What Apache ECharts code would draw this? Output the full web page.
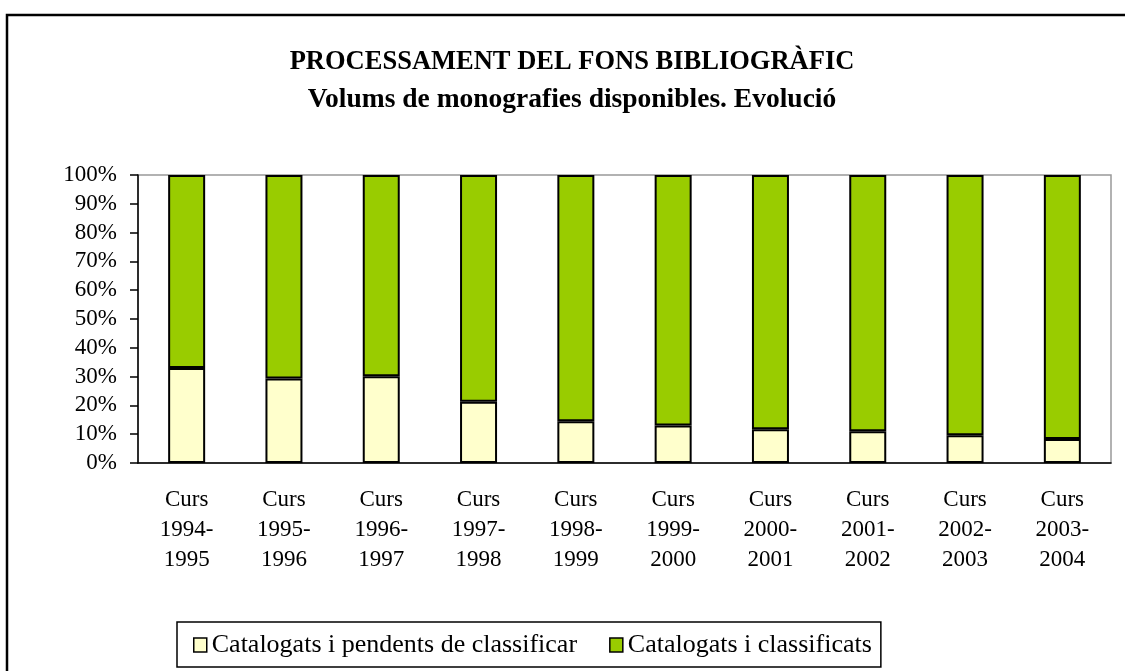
<!DOCTYPE html>
<html>
<head>
<meta charset="utf-8">
<script src="https://cdn.jsdelivr.net/npm/echarts@6/dist/echarts.min.js"></script>
<style>
html,body{margin:0;padding:0;background:#fff;}
#chart{width:1125px;height:671px;}
</style>
</head>
<body>
<div id="chart"></div>
<script>
const titleLines = ["PROCESSAMENT DEL FONS BIBLIOGRÀFIC", "Volums de monografies disponibles. Evolució"];
const categories = ["Curs\n1994-\n1995","Curs\n1995-\n1996","Curs\n1996-\n1997","Curs\n1997-\n1998","Curs\n1998-\n1999","Curs\n1999-\n2000","Curs\n2000-\n2001","Curs\n2001-\n2002","Curs\n2002-\n2003","Curs\n2003-\n2004"];
const seriesNames = ["Catalogats i pendents de classificar", "Catalogats i classificats"];
const pendents = [33.0, 29.3, 30.1, 21.3, 14.5, 13.0, 11.7, 11.0, 9.6, 8.3];
const classificats = [67.0, 70.7, 69.9, 78.7, 85.5, 87.0, 88.3, 89.0, 90.4, 91.7];
const yTicks = [0, 10, 20, 30, 40, 50, 60, 70, 80, 90, 100];

const FONT = "'Liberation Serif', 'Times New Roman', serif";
const chart = echarts.init(document.getElementById('chart'), null, {renderer: 'canvas'});
chart.setOption({
  backgroundColor: '#fff',
  animation: false,
  textStyle: {fontFamily: FONT, color: '#000'},
  graphic: [
    {type: 'rect', shape: {x: 7, y: 15, width: 1200, height: 700}, style: {fill: 'none', stroke: '#000', lineWidth: 2.5}, silent: true},
    {type: 'text', x: 572, y: 62, style: {text: titleLines[0], font: "bold 26.5px " + FONT, fill: '#000', align: 'center', verticalAlign: 'middle'}},
    {type: 'text', x: 572, y: 100, style: {text: titleLines[1], font: "bold 27.5px " + FONT, fill: '#000', align: 'center', verticalAlign: 'middle'}}
  ],
  grid: {left: 138, right: 14, top: 175, bottom: 208, show: true, borderColor: '#999', borderWidth: 1.5, containLabel: false},
  legend: {
    data: seriesNames,
    left: 177, top: 622,
    padding: [10, 9, 9, 16],
    itemGap: 32,
    itemWidth: 13, itemHeight: 14,
    icon: 'rect',
    borderColor: '#000', borderWidth: 1.5,
    itemStyle: {borderColor: '#000', borderWidth: 1.5},
    textStyle: {fontFamily: FONT, fontSize: 26, color: '#000'}
  },
  xAxis: {
    type: 'category',
    data: categories,
    axisLine: {lineStyle: {color: '#000', width: 1.5}},
    axisTick: {show: false},
    axisLabel: {interval: 0, fontFamily: FONT, fontSize: 23, lineHeight: 30, color: '#000', margin: 22}
  },
  yAxis: {
    type: 'value',
    min: 0, max: 100, interval: 10,
    axisLine: {show: true, lineStyle: {color: '#000', width: 1.5}},
    axisTick: {show: true, length: 8, lineStyle: {color: '#000', width: 1.5}},
    splitLine: {show: false},
    axisLabel: {fontFamily: FONT, fontSize: 23, color: '#000', margin: 21, formatter: v => yTicks.includes(v) ? v + '%' : ''}
  },
  series: [
    {name: seriesNames[0], type: 'bar', stack: 'total', data: pendents, barWidth: 37,
     itemStyle: {color: '#FFFFCC', borderColor: '#000', borderWidth: 2}},
    {name: seriesNames[1], type: 'bar', stack: 'total', data: classificats, barWidth: 37,
     itemStyle: {color: '#99CC00', borderColor: '#000', borderWidth: 2}}
  ]
});
</script>
</body>
</html>
